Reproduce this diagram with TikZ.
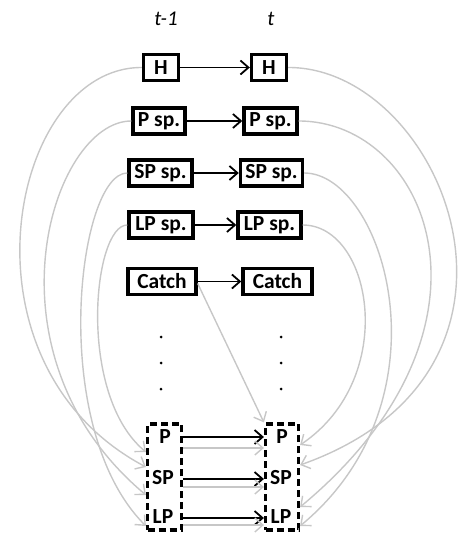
\documentclass[tikz,border=0pt]{standalone}
\usepackage{fontspec}
\setmainfont{Carlito}
\usetikzlibrary{arrows.meta}
\begin{document}
\begin{tikzpicture}[x=1pt,y=1pt,
  box/.style={draw=black, line width=3.4pt, fill=white, inner sep=0pt, minimum height=26pt, font=\fontsize{21.5}{24}\selectfont\bfseries},
  dbox/.style={draw=black, line width=3.2pt, dash pattern=on 7pt off 4pt, inner sep=0pt},
  lbl/.style={font=\fontsize{21.5}{24}\selectfont\bfseries, inner sep=0pt},
  tlbl/.style={font=\fontsize{21}{24}\selectfont\itshape, inner sep=0pt},
  blk/.style={draw=black, line width=1.8pt, -{Straight Barb[length=8pt,width=14pt]}},
  gry/.style={draw=black!22, line width=1.4pt, -{Straight Barb[length=8pt,width=14pt]}},
  dotm/.style={fill=black},
]
\useasboundingbox (0,0) rectangle (458,-534);

% time labels
\node[tlbl] (t1) at (166,-19) {t-1};
\node[tlbl] (t0) at (271,-19) {t};

% boxes
\node[box, minimum width=35pt] (Hl) at (161,-67.5) {H};
\node[box, minimum width=35pt] (Hr) at (269,-67.5) {H};
\node[box, minimum width=52pt] (Pl) at (159,-121) {P sp.};
\node[box, minimum width=53pt] (Pr) at (270.5,-121) {P sp.};
\node[box, minimum width=63pt] (SPl) at (160.5,-173) {SP sp.};
\node[box, minimum width=62pt] (SPr) at (271.5,-173) {SP sp.};
\node[box, minimum width=64pt] (LPl) at (161,-225) {LP sp.};
\node[box, minimum width=63pt] (LPr) at (269.5,-225) {LP sp.};
\node[box, minimum width=68pt] (Cl) at (162,-281.5) {Catch};
\node[box, minimum width=69pt] (Cr) at (277.5,-281.5) {Catch};

% dashed group boxes
\node[dbox, minimum width=34pt, minimum height=106pt] (DL) at (164.5,-477) {};
\node[dbox, minimum width=33pt, minimum height=106pt] (DR) at (282,-477) {};
\node[lbl] (pl) at (165,-437) {P};
\node[lbl] (spl) at (163,-478) {SP};
\node[lbl] (lpl) at (163,-517) {LP};
\node[lbl] (pr) at (282,-437) {P};
\node[lbl] (spr) at (281,-478) {SP};
\node[lbl] (lpr) at (281,-517) {LP};

% dots
\fill[dotm] (161,-337) circle (1.5pt);
\fill[dotm] (161,-363) circle (1.5pt);
\fill[dotm] (161,-389) circle (1.5pt);
\fill[dotm] (281,-337) circle (1.5pt);
\fill[dotm] (281,-363) circle (1.5pt);
\fill[dotm] (281,-389) circle (1.5pt);

% end points on dashed boxes
\coordinate (lP) at (DL.west |- 0,-452);
\coordinate (lSP) at (DL.west |- 0,-467);
\coordinate (lLP) at (DL.west |- 0,-495);
\coordinate (lB) at (DL.west |- 0,-526);
\coordinate (rP) at (DR.east |- 0,-445);
\coordinate (rSP) at (DR.east |- 0,-465);
\coordinate (rLP) at (DR.east |- 0,-507);
\coordinate (rB) at (DR.east |- 0,-526);

% gray curves, left
\draw[gry] (Hl.west) .. controls (10,-67) and (-50,-363) .. (lSP);
\draw[gry] (Pl.west) .. controls (52,-121) and (-22.5,-353.6) .. (lLP);
\draw[gry] (SPl.west) .. controls (78,-173) and (47,-427) .. (lB);
\draw[gry] (LPl.west) .. controls (93,-225) and (76.7,-394.4) .. (lP);
% gray curves, right
\draw[gry] (Hr.east) .. controls (442,-67) and (568,-370) .. (rSP);
\draw[gry] (Pr.east) .. controls (428,-121) and (515.6,-327.8) .. (rLP);
\draw[gry] (SPr.east) .. controls (383,-173) and (454,-398) .. (rB);
\draw[gry] (LPr.east) .. controls (372,-225) and (399.6,-377.8) .. (rP);

% catch to right group
\draw[gry] ([yshift=-2pt]Cl.east) -- (DR.north west);

% black arrows between boxes
\draw[blk] (Hl) -- (Hr);
\draw[blk] (Pl) -- (Pr);
\draw[blk] (SPl) -- (SPr);
\draw[blk] (LPl) -- (LPr);
\draw[blk] (Cl) -- (Cr);

% arrows between groups
\draw[blk] (DL.east |- 0,-437) -- (DR.west |- 0,-437);
\draw[blk] (DL.east |- 0,-479) -- (DR.west |- 0,-479);
\draw[blk] (DL.east |- 0,-518) -- (DR.west |- 0,-518);
\draw[gry] (DL.east |- 0,-448) -- (DR.west |- 0,-448);
\draw[gry] (DL.east |- 0,-487) -- (DR.west |- 0,-487);
\draw[gry] (DL.east |- 0,-525) -- (DR.west |- 0,-525);
\end{tikzpicture}
\end{document}
